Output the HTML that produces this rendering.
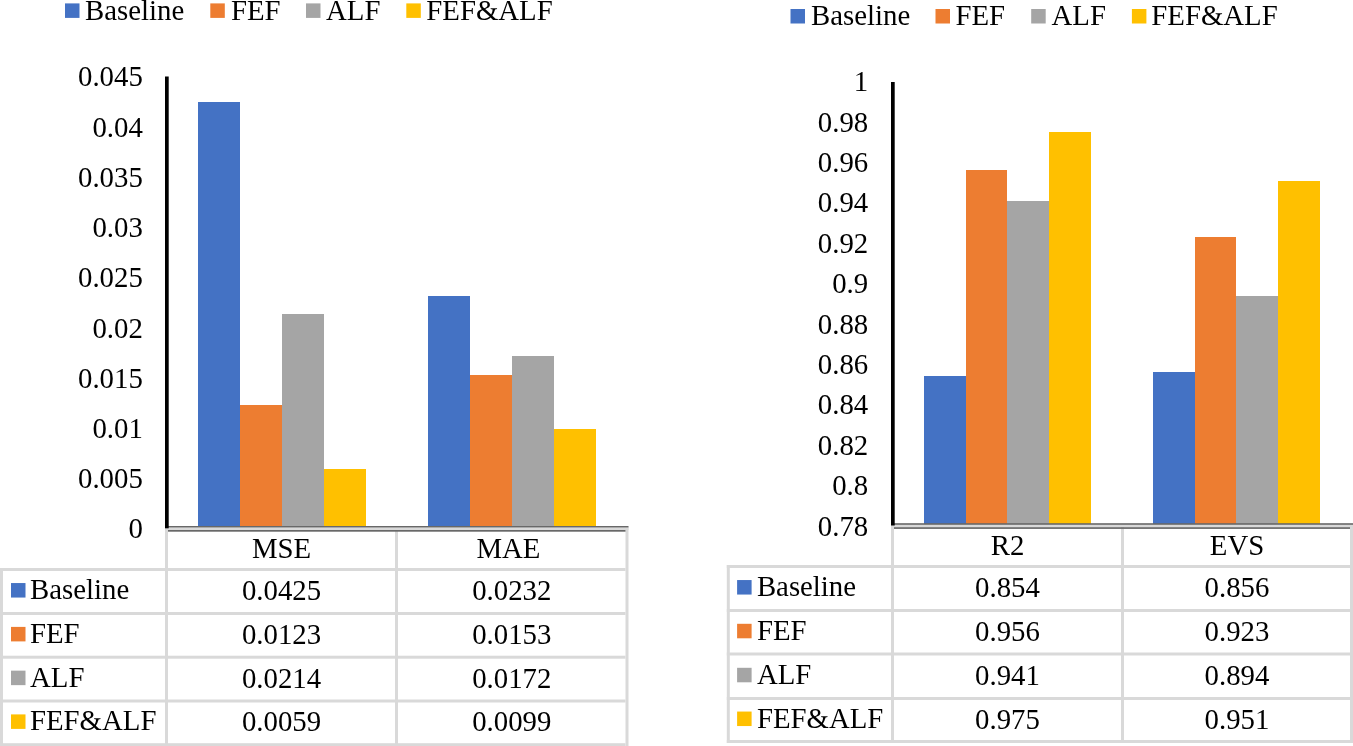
<!DOCTYPE html>
<html><head><meta charset="utf-8"><style>
html,body{margin:0;padding:0;background:#fff;}
body{width:1353px;height:746px;overflow:hidden;}
svg{display:block;will-change:transform;}
text{font-family:"Liberation Serif",serif;font-size:28.8px;fill:#000;}
</style></head><body>
<svg width="1353" height="746" viewBox="0 0 1353 746">
<rect x="0" y="0" width="1353" height="746" fill="#fff"/>
<rect x="65.00" y="3.40" width="14.50" height="14.50" fill="#4472C4"/>
<text x="85.00" y="20.00" text-anchor="start">Baseline</text>
<rect x="210.30" y="3.40" width="14.50" height="14.50" fill="#ED7D31"/>
<text x="231.00" y="20.00" text-anchor="start">FEF</text>
<rect x="306.00" y="3.40" width="14.50" height="14.50" fill="#A5A5A5"/>
<text x="326.00" y="20.00" text-anchor="start">ALF</text>
<rect x="406.30" y="3.40" width="14.50" height="14.50" fill="#FFC000"/>
<text x="426.30" y="20.00" text-anchor="start">FEF&amp;ALF</text>
<text x="142.80" y="538.43" text-anchor="end">0</text>
<text x="142.80" y="488.21" text-anchor="end">0.005</text>
<text x="142.80" y="437.98" text-anchor="end">0.01</text>
<text x="142.80" y="387.76" text-anchor="end">0.015</text>
<text x="142.80" y="337.53" text-anchor="end">0.02</text>
<text x="142.80" y="287.31" text-anchor="end">0.025</text>
<text x="142.80" y="237.08" text-anchor="end">0.03</text>
<text x="142.80" y="186.86" text-anchor="end">0.035</text>
<text x="142.80" y="136.63" text-anchor="end">0.04</text>
<text x="142.80" y="86.41" text-anchor="end">0.045</text>
<rect x="198.00" y="101.79" width="42.00" height="425.21" fill="#4472C4" shape-rendering="crispEdges"/>
<rect x="240.00" y="405.15" width="42.00" height="121.85" fill="#ED7D31" shape-rendering="crispEdges"/>
<rect x="282.00" y="313.74" width="42.00" height="213.26" fill="#A5A5A5" shape-rendering="crispEdges"/>
<rect x="324.00" y="469.43" width="42.00" height="57.57" fill="#FFC000" shape-rendering="crispEdges"/>
<rect x="428.00" y="295.66" width="42.00" height="231.34" fill="#4472C4" shape-rendering="crispEdges"/>
<rect x="470.00" y="375.01" width="42.00" height="151.99" fill="#ED7D31" shape-rendering="crispEdges"/>
<rect x="512.00" y="355.93" width="42.00" height="171.07" fill="#A5A5A5" shape-rendering="crispEdges"/>
<rect x="554.00" y="429.25" width="42.00" height="97.75" fill="#FFC000" shape-rendering="crispEdges"/>
<rect x="0.00" y="568.00" width="625.50" height="3.00" fill="#D9D9D9"/>
<rect x="0.00" y="612.00" width="625.50" height="3.00" fill="#D9D9D9"/>
<rect x="0.00" y="655.70" width="625.50" height="3.00" fill="#D9D9D9"/>
<rect x="0.00" y="699.50" width="625.50" height="3.00" fill="#D9D9D9"/>
<rect x="0.00" y="743.20" width="625.50" height="3.00" fill="#D9D9D9"/>
<rect x="0.00" y="568.00" width="3.00" height="178.20" fill="#D9D9D9"/>
<rect x="165.00" y="528.00" width="3.00" height="218.20" fill="#D9D9D9"/>
<rect x="395.00" y="528.00" width="3.00" height="218.20" fill="#D9D9D9"/>
<rect x="625.50" y="528.00" width="3.00" height="218.20" fill="#D9D9D9"/>
<rect x="165.00" y="526.00" width="463.50" height="1.70" fill="#686868"/>
<rect x="165.00" y="527.70" width="463.50" height="2.30" fill="#D9D9D9"/>
<rect x="168.00" y="530.00" width="457.50" height="1.70" fill="#686868"/>
<rect x="165.00" y="76.50" width="3.70" height="451.80" fill="#000"/>
<text x="281.50" y="558.30" text-anchor="middle">MSE</text>
<text x="281.50" y="600.10" text-anchor="middle">0.0425</text>
<text x="281.50" y="643.95" text-anchor="middle">0.0123</text>
<text x="281.50" y="687.70" text-anchor="middle">0.0214</text>
<text x="281.50" y="731.45" text-anchor="middle">0.0059</text>
<text x="508.45" y="558.30" text-anchor="middle">MAE</text>
<text x="511.75" y="600.10" text-anchor="middle">0.0232</text>
<text x="511.75" y="643.95" text-anchor="middle">0.0153</text>
<text x="511.75" y="687.70" text-anchor="middle">0.0172</text>
<text x="511.75" y="731.45" text-anchor="middle">0.0099</text>
<rect x="11.00" y="583.05" width="14.50" height="14.50" fill="#4472C4"/>
<text x="30.00" y="599.10" text-anchor="start">Baseline</text>
<rect x="11.00" y="626.90" width="14.50" height="14.50" fill="#ED7D31"/>
<text x="30.00" y="642.95" text-anchor="start">FEF</text>
<rect x="11.00" y="670.65" width="14.50" height="14.50" fill="#A5A5A5"/>
<text x="30.00" y="686.70" text-anchor="start">ALF</text>
<rect x="11.00" y="714.40" width="14.50" height="14.50" fill="#FFC000"/>
<text x="30.00" y="730.45" text-anchor="start">FEF&amp;ALF</text>
<rect x="790.50" y="9.00" width="14.50" height="14.50" fill="#4472C4"/>
<text x="811.00" y="24.70" text-anchor="start">Baseline</text>
<rect x="935.50" y="9.00" width="14.50" height="14.50" fill="#ED7D31"/>
<text x="955.50" y="24.70" text-anchor="start">FEF</text>
<rect x="1031.20" y="9.00" width="14.50" height="14.50" fill="#A5A5A5"/>
<text x="1051.50" y="24.70" text-anchor="start">ALF</text>
<rect x="1131.90" y="9.00" width="14.50" height="14.50" fill="#FFC000"/>
<text x="1151.30" y="24.70" text-anchor="start">FEF&amp;ALF</text>
<text x="868.20" y="535.53" text-anchor="end">0.78</text>
<text x="868.20" y="495.15" text-anchor="end">0.8</text>
<text x="868.20" y="454.77" text-anchor="end">0.82</text>
<text x="868.20" y="414.39" text-anchor="end">0.84</text>
<text x="868.20" y="374.01" text-anchor="end">0.86</text>
<text x="868.20" y="333.63" text-anchor="end">0.88</text>
<text x="868.20" y="293.25" text-anchor="end">0.9</text>
<text x="868.20" y="252.87" text-anchor="end">0.92</text>
<text x="868.20" y="212.49" text-anchor="end">0.94</text>
<text x="868.20" y="172.11" text-anchor="end">0.96</text>
<text x="868.20" y="131.73" text-anchor="end">0.98</text>
<text x="868.20" y="91.35" text-anchor="end">1</text>
<rect x="924.10" y="376.39" width="41.65" height="147.81" fill="#4472C4" shape-rendering="crispEdges"/>
<rect x="965.75" y="170.46" width="41.65" height="353.74" fill="#ED7D31" shape-rendering="crispEdges"/>
<rect x="1007.40" y="200.74" width="41.65" height="323.46" fill="#A5A5A5" shape-rendering="crispEdges"/>
<rect x="1049.05" y="132.10" width="41.65" height="392.11" fill="#FFC000" shape-rendering="crispEdges"/>
<rect x="1153.10" y="372.36" width="41.65" height="151.84" fill="#4472C4" shape-rendering="crispEdges"/>
<rect x="1194.75" y="237.08" width="41.65" height="287.12" fill="#ED7D31" shape-rendering="crispEdges"/>
<rect x="1236.40" y="295.63" width="41.65" height="228.57" fill="#A5A5A5" shape-rendering="crispEdges"/>
<rect x="1278.05" y="180.55" width="41.65" height="343.65" fill="#FFC000" shape-rendering="crispEdges"/>
<rect x="726.80" y="565.00" width="623.20" height="3.00" fill="#D9D9D9"/>
<rect x="726.80" y="609.00" width="623.20" height="3.00" fill="#D9D9D9"/>
<rect x="726.80" y="652.50" width="623.20" height="3.00" fill="#D9D9D9"/>
<rect x="726.80" y="697.00" width="623.20" height="3.00" fill="#D9D9D9"/>
<rect x="726.80" y="740.00" width="623.20" height="3.00" fill="#D9D9D9"/>
<rect x="726.80" y="565.00" width="3.00" height="178.00" fill="#D9D9D9"/>
<rect x="891.00" y="525.20" width="3.00" height="217.80" fill="#D9D9D9"/>
<rect x="1121.00" y="525.20" width="3.00" height="217.80" fill="#D9D9D9"/>
<rect x="1350.00" y="525.20" width="3.00" height="217.80" fill="#D9D9D9"/>
<rect x="891.00" y="523.20" width="462.00" height="1.70" fill="#686868"/>
<rect x="891.00" y="524.90" width="462.00" height="2.30" fill="#D9D9D9"/>
<rect x="894.00" y="527.20" width="456.00" height="1.70" fill="#686868"/>
<rect x="891.00" y="82.00" width="3.70" height="443.50" fill="#000"/>
<text x="1007.50" y="554.80" text-anchor="middle">R2</text>
<text x="1007.50" y="597.10" text-anchor="middle">0.854</text>
<text x="1007.50" y="640.85" text-anchor="middle">0.956</text>
<text x="1007.50" y="684.85" text-anchor="middle">0.941</text>
<text x="1007.50" y="728.60" text-anchor="middle">0.975</text>
<text x="1237.00" y="554.80" text-anchor="middle">EVS</text>
<text x="1237.00" y="597.10" text-anchor="middle">0.856</text>
<text x="1237.00" y="640.85" text-anchor="middle">0.923</text>
<text x="1237.00" y="684.85" text-anchor="middle">0.894</text>
<text x="1237.00" y="728.60" text-anchor="middle">0.951</text>
<rect x="737.10" y="580.05" width="14.50" height="14.50" fill="#4472C4"/>
<text x="756.90" y="596.10" text-anchor="start">Baseline</text>
<rect x="737.10" y="623.80" width="14.50" height="14.50" fill="#ED7D31"/>
<text x="756.90" y="639.85" text-anchor="start">FEF</text>
<rect x="737.10" y="667.80" width="14.50" height="14.50" fill="#A5A5A5"/>
<text x="756.90" y="683.85" text-anchor="start">ALF</text>
<rect x="737.10" y="711.55" width="14.50" height="14.50" fill="#FFC000"/>
<text x="756.90" y="727.60" text-anchor="start">FEF&amp;ALF</text>
</svg>
</body></html>
